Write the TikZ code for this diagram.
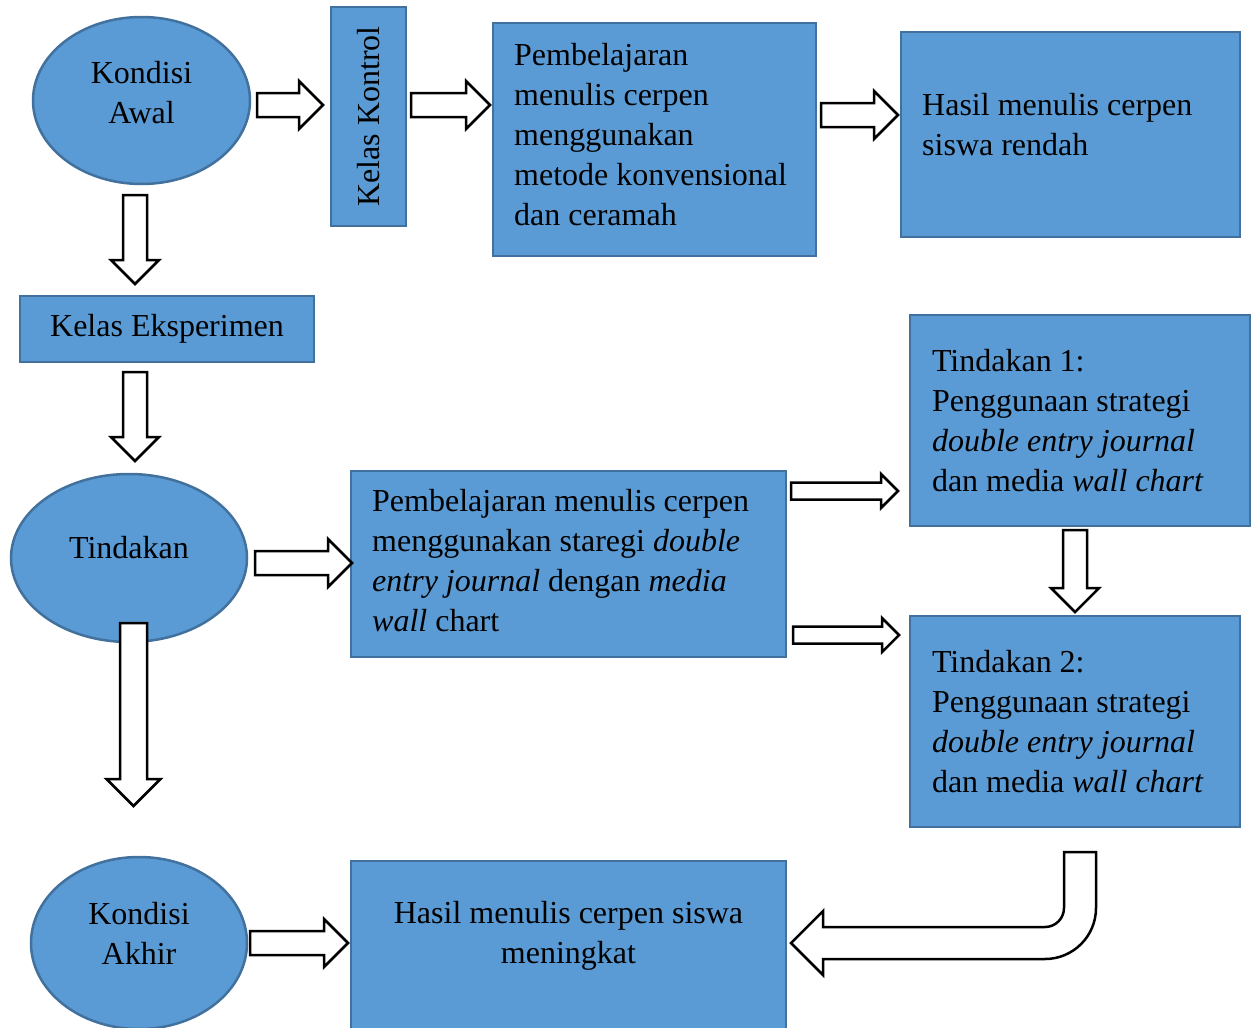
\documentclass[tikz,border=0pt]{standalone}
\usepackage{fontspec}
\setmainfont{Liberation Serif}
\usetikzlibrary{shapes.geometric,calc}
\definecolor{fillblue}{HTML}{5B9BD5}
\definecolor{edgeblue}{HTML}{41719C}

\newcommand\rblock[3]{%
  \draw[barrow] let \p1=#1, \p2=#2 in
    (\x1,\y1+#3) -- (\x2-2*#3,\y1+#3) -- (\x2-2*#3,\y1+2*#3) -- (\x2,\y1)
    -- (\x2-2*#3,\y1-2*#3) -- (\x2-2*#3,\y1-#3) -- (\x1,\y1-#3) -- cycle;}
\newcommand\dblock[3]{%
  \draw[barrow] let \p1=#1, \p2=#2 in
    (\x1-#3,\y1) -- (\x1-#3,\y2+2*#3) -- (\x1-2*#3,\y2+2*#3) -- (\x1,\y2)
    -- (\x1+2*#3,\y2+2*#3) -- (\x1+#3,\y2+2*#3) -- (\x1+#3,\y1) -- cycle;}

\begin{document}
\begin{tikzpicture}[x=1pt,y=-1pt,
    font=\fontsize{32}{40}\selectfont,
    blok/.style={draw=edgeblue,fill=fillblue,line width=2.5pt,outer sep=0pt,
      inner ysep=0pt},
    teks/.style={blok,align=flush left,inner xsep=22pt},
    elips/.style={blok,ellipse},
    lbl/.style={align=center,inner sep=0pt},
    barrow/.style={draw=black,fill=white,line width=2.5pt,line join=miter}]
    \useasboundingbox (0,0) rectangle (1253,1028);
    \clip (0,0) rectangle (1253,1028);

    \node[elips,minimum width=217,minimum height=167] (awal) at (141.5,100.5) {};
    \node[lbl] (awal-t) at ([yshift=8pt]awal) {Kondisi\\Awal};
    \node[blok,minimum width=75,minimum height=219] (kontrol) at (368.5,116.5)
      {\rotatebox{90}{Kelas Kontrol}};
    \node[blok,minimum width=323,minimum height=233] (konv) at (654.5,139.5) {};
    \node[lbl,align=left,anchor=west] (konv-t) at ([xshift=21pt,yshift=5pt]konv.west)
      {Pembelajaran\\menulis cerpen\\menggunakan\\metode konvensional\\dan ceramah};
    \node[blok,minimum width=339,minimum height=205] (rendah) at (1070.5,134.5) {};
    \node[lbl,align=left,anchor=west] (rendah-t) at ([xshift=21pt,yshift=10pt]rendah.west)
      {Hasil menulis cerpen\\siswa rendah};

    \node[blok,minimum width=294,minimum height=66] (eksp) at (167,329) {Kelas Eksperimen};
    \node[elips,minimum width=236,minimum height=168] (tindakan) at (129,558) {};
    \node[lbl] (tindakan-t) at ([yshift=10pt]tindakan) {Tindakan};
    \node[blok,minimum width=435,minimum height=186] (strategi) at (568.5,564) {};
    \node[lbl,align=left,anchor=west] (strategi-t) at ([xshift=21pt,yshift=3pt]strategi.west)
      {Pembelajaran menulis cerpen\\menggunakan staregi \textit{double}\\
       \textit{entry journal} dengan \textit{media}\\\textit{wall} chart};
    \node[teks,minimum width=340,minimum height=211,text width=296] (t1) at (1080,420.5)
      {Tindakan 1:\\Penggunaan strategi\\\textit{double entry journal}\\dan media \textit{wall chart}};
    \node[teks,minimum width=330,minimum height=211,text width=286] (t2) at (1075,721.5)
      {Tindakan 2:\\Penggunaan strategi\\\textit{double entry journal}\\dan media \textit{wall chart}};

    \node[elips,minimum width=216,minimum height=172] (akhir) at (139,943) {};
    \node[lbl] (akhir-t) at ([yshift=10pt]akhir) {Kondisi\\Akhir};
    \node[blok,minimum width=435,minimum height=200] (naik) at (568.5,961) {};
    \node[lbl] (naik-t) at ([yshift=25pt]naik) {Hasil menulis cerpen siswa\\meningkat};

    \rblock{([xshift=7pt,yshift=-4.5pt]awal.east)}{([xshift=-8pt]kontrol.west)}{12}
    \rblock{([xshift=5pt,yshift=11.5pt]kontrol.east)}{([xshift=-3pt]konv.west)}{12}
    \rblock{([xshift=5pt,yshift=24.5pt]konv.east)}{([xshift=-3pt]rendah.west)}{12}
    \dblock{([xshift=-6.5pt,yshift=-11pt]awal.south)}{([yshift=12pt]eksp.north)}{12}
    \dblock{([xshift=-32pt,yshift=-10pt]eksp.south)}{([yshift=13pt]tindakan.north)}{12}
    \rblock{([xshift=8pt,yshift=-5pt]tindakan.east)}{([xshift=1pt]strategi.west)}{12}
    \rblock{([xshift=5pt,yshift=73pt]strategi.east)}{([xshift=-12pt]t1.west)}{8.5}
    \rblock{([xshift=7pt,yshift=-71pt]strategi.east)}{([xshift=-11pt]t2.west)}{8.5}
    \dblock{([xshift=-5pt,yshift=-4pt]t1.south)}{([yshift=4pt]t2.north)}{12}
    \dblock{([xshift=4.5pt,yshift=19pt]tindakan.south)}{([yshift=51pt]akhir.north)}{13.5}
    \rblock{([xshift=3pt]akhir.east)}{([xshift=-3pt]naik.west)}{12}

    \coordinate (u) at ([xshift=5pt,yshift=-25pt]t2.south);
    \draw[barrow] ([xshift=-16pt]u) -- ++(0,56) arc[start angle=0,end angle=-90,radius=19pt]
      -- ++(-222,0) -- ++(0,-16) -- ++(-32,32) -- ++(32,32) -- ++(0,-16) -- ++(222,0)
      arc[start angle=-90,end angle=0,radius=51pt] -- ++(0,-56) -- cycle;
\end{tikzpicture}
\end{document}
